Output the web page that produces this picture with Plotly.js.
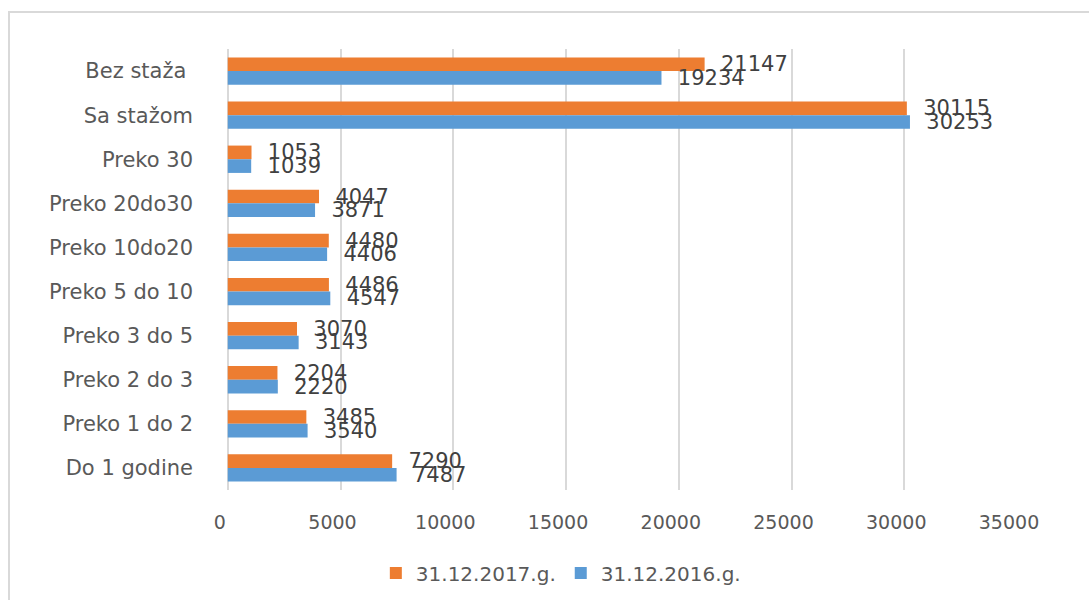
<!DOCTYPE html>
<html>
<head>
<meta charset="utf-8">
<script src="https://cdn.plot.ly/plotly-3.0.1.min.js"></script>
<style>
  body { margin: 0; background: #fff; }
  #frame { position: absolute; left: 8px; top: 11px; width: 1200px; height: 700px; border: 2px solid #d9d9d9; }
  #plot { position: absolute; left: 0; top: 0; width: 1089px; height: 600px; }
</style>
</head>
<body>
<div id="frame"></div>
<div id="plot"></div>
<script>
var categories = ["Bez staža\u00a0", "Sa stažom", "Preko 30", "Preko 20do30", "Preko 10do20",
  "Preko 5 do 10", "Preko 3 do 5", "Preko 2 do 3", "Preko 1 do 2", "Do 1 godine"];
var values2017 = [21147, 30115, 1053, 4047, 4480, 4486, 3070, 2204, 3485, 7290];
var values2016 = [19234, 30253, 1039, 3871, 4406, 4547, 3143, 2220, 3540, 7487];

var trace1 = {
  y: categories,
  x: values2017,
  name: "31.12.2017.g.",
  type: "bar",
  orientation: "h",
  marker: {color: "#ED7D31"},
  texttemplate: "\u00a0\u00a0%{x:d}",
  textposition: "outside",
  constraintext: "none",
  cliponaxis: false,
  textfont: {size: 21, color: "#404040"}
};

var trace2 = {
  y: categories,
  x: values2016,
  name: "31.12.2016.g.",
  type: "bar",
  orientation: "h",
  marker: {color: "#5B9BD5"},
  texttemplate: "\u00a0\u00a0%{x:d}",
  textposition: "outside",
  constraintext: "none",
  cliponaxis: false,
  textfont: {size: 21, color: "#404040"}
};

var layout = {
  width: 1089,
  height: 600,
  margin: {l: 221, r: 72, t: 49, b: 110},
  paper_bgcolor: "rgba(0,0,0,0)",
  plot_bgcolor: "rgba(0,0,0,0)",
  font: {family: "DejaVu Sans", color: "#595959"},
  barmode: "group",
  bargap: 0.38,
  bargroupgap: 0,
  showlegend: true,
  legend: {
    orientation: "h",
    xref: "container", yref: "container",
    x: 0.515, y: 0.045, xanchor: "center", yanchor: "middle",
    font: {size: 20, color: "#595959"}
  },
  xaxis: {
    range: [-300, 35000],
    tickvals: [0, 5000, 10000, 15000, 20000, 25000, 30000, 35000],
    tickformat: "d",
    showgrid: true,
    gridcolor: "#d9d9d9",
    gridwidth: 2,
    zeroline: false,
    showline: false,
    ticks: "",
    ticklabelstandoff: 19,
    ticklabelshift: -8,
    tickfont: {size: 19, color: "#595959"}
  },
  yaxis: {
    autorange: "reversed",
    showgrid: false,
    zeroline: false,
    showline: false,
    ticks: "",
    ticklabelstandoff: 27,
    tickfont: {size: 21, color: "#595959"}
  }
};

Plotly.newPlot("plot", [trace1, trace2], layout, {displayModeBar: false});
</script>
</body>
</html>
